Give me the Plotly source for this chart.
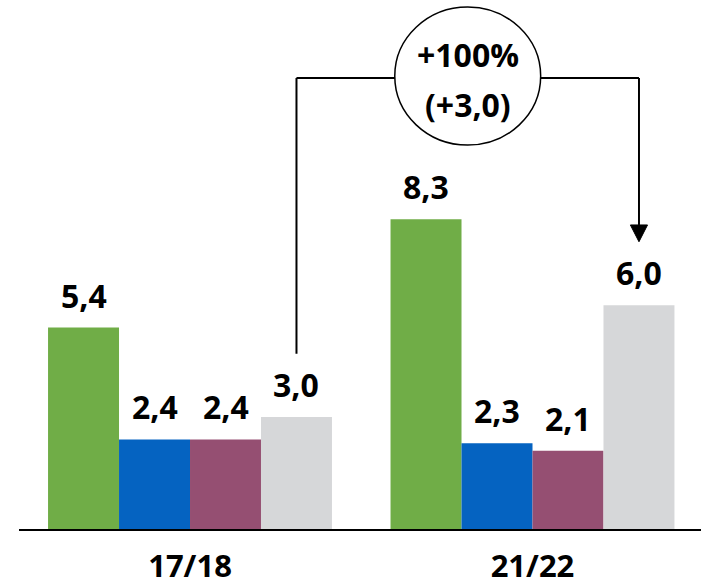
import plotly.graph_objects as go

# Seasons and the four series shown for each season
seasons = ["17/18", "21/22"]
series_green = [5.4, 8.3]
series_blue = [2.4, 2.3]
series_purple = [2.4, 2.1]
series_gray = [3.0, 6.0]

series = [series_green, series_blue, series_purple, series_gray]
colors = ["#70AD47", "#0563C1", "#954F72", "#D6D7D9"]

change_pct = "+100%"
change_abs = "(+3,0)"

FONT = "Open Sans"
FSIZE = 32
BARGAP = 0.171
N = len(series)
W = (1 - BARGAP) / N  # width of one bar in category units


def fmt(v):
    return f"{v:.1f}".replace(".", ",")


fig = go.Figure()
for vals, col in zip(series, colors):
    fig.add_trace(go.Bar(x=seasons, y=vals, marker=dict(color=col, line=dict(width=0)),
                         hoverinfo="skip", showlegend=False))

annotations = []
for j, vals in enumerate(series):
    for i, v in enumerate(vals):
        annotations.append(dict(
            x=i + (j - (N - 1) / 2) * W, y=v, xref="x", yref="y",
            text=f"<b>{fmt(v)}</b>", showarrow=False,
            yanchor="bottom", yshift=9,
            font=dict(family=FONT, size=FSIZE, color="black")))

# Bracket from the first gray bar to the second one, with a circled change label
x_a = 0 + (N - 1) / 2 * W
x_b = 1 + (N - 1) / 2 * W
x_mid = (x_a + x_b) / 2
y_top = 12.09
y_start = series_gray[0] + 1.7
y_tip = series_gray[1] + 1.7
head_h = 0.45
head_w = 0.025

shapes = [
    dict(type="line", xref="x", yref="y", x0=x_a, x1=x_a, y0=y_start, y1=y_top,
         line=dict(color="black", width=2)),
    dict(type="line", xref="x", yref="y", x0=x_a, x1=x_b, y0=y_top, y1=y_top,
         line=dict(color="black", width=2)),
    dict(type="line", xref="x", yref="y", x0=x_b, x1=x_b, y0=y_top, y1=y_tip + head_h,
         line=dict(color="black", width=2)),
    dict(type="path", xref="x", yref="y",
         path=f"M {x_b - head_w} {y_tip + head_h} L {x_b + head_w} {y_tip + head_h} L {x_b} {y_tip} Z",
         fillcolor="black", line=dict(color="black", width=1)),
    dict(type="circle", xref="x", yref="y",
         x0=x_mid - 0.213, x1=x_mid + 0.213, y0=10.29, y1=13.99,
         fillcolor="white", line=dict(color="black", width=1.5)),
]

annotations.append(dict(x=x_mid, y=12.73, xref="x", yref="y", text=f"<b>{change_pct}</b>",
                        showarrow=False, font=dict(family=FONT, size=FSIZE, color="black")))
annotations.append(dict(x=x_mid, y=11.37, xref="x", yref="y", text=f"<b>{change_abs}</b>",
                        showarrow=False, font=dict(family=FONT, size=FSIZE, color="black")))

fig.update_layout(
    width=701, height=586,
    margin=dict(l=19, r=0, t=0, b=57, autoexpand=False),
    paper_bgcolor="white", plot_bgcolor="white",
    barmode="group", bargap=BARGAP, bargroupgap=0,
    shapes=shapes, annotations=annotations,
    xaxis=dict(type="category", range=[-0.4993, 1.492], showline=True, linecolor="black",
               linewidth=2, showgrid=False, zeroline=False, ticks="",
               tickfont=dict(family=FONT, size=31, color="black"),
               ticklabelstandoff=9, automargin=False, fixedrange=True,
               tickvals=seasons, ticktext=[f"<b>{s}</b>" for s in seasons]),
    yaxis=dict(range=[0, 14.18], visible=False, showgrid=False, zeroline=False,
               automargin=False, fixedrange=True),
)

fig.write_html("out.html", config={"displayModeBar": False})
